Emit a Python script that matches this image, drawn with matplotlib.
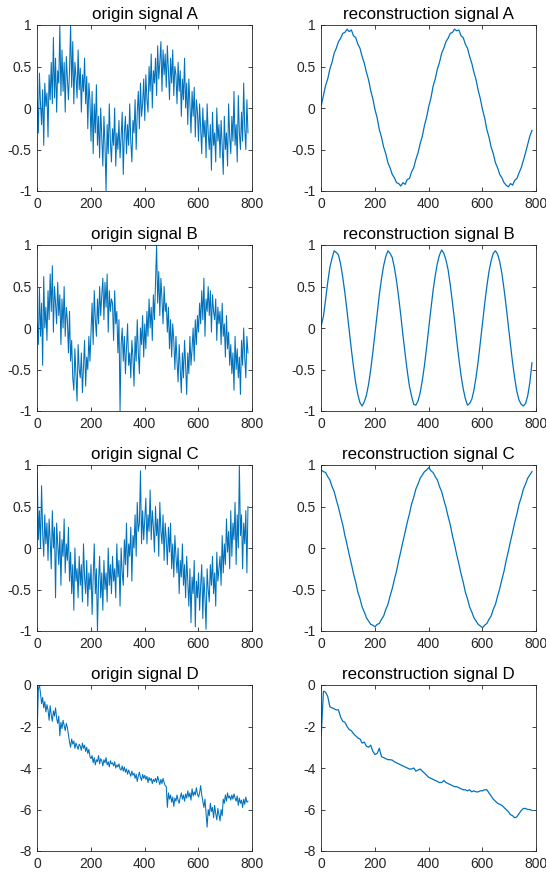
import matplotlib
matplotlib.use("Agg")
import matplotlib.pyplot as plt
import numpy as np

# sample spacing used when reading the curves off the picture
NOISY_STEP = 4
SMOOTH_STEP = 8

origin_a = [
    0.10, -0.30, 0.42, 0.05, -0.20, 0.22, -0.45, 0.30, 0.02, 0.18,
    -0.35, 0.40, 0.10, 0.55, 0.05, 0.85, 0.12, 0.60, -0.05, 0.45,
    0.30, 1.00, 0.15, 0.70, 0.20, 0.55, -0.05, 0.62, 0.35, 0.10,
    0.45, 1.00, 0.25, 0.80, 0.05, 0.55, 0.38, 0.12, 0.70, 0.22,
    0.48, -0.05, 0.40, 0.20, 0.60, 0.05, 0.38, -0.25, 0.30, 0.10,
    -0.40, 0.20, -0.55, 0.05, -0.30, 0.28, -0.45, -0.10, -0.60, 0.00,
    -0.35, -0.70, -0.10, -0.45, -1.00, -0.20, -0.55, 0.05, -0.40, -0.65,
    -0.25, -0.45, 0.00, -0.70, -0.30, -0.50, -0.15, -0.60, -0.35, -0.05,
    -0.80, -0.30, -0.10, -0.55, -0.20, -0.45, 0.05, -0.40, -0.65, -0.15,
    -0.30, 0.10, -0.50, -0.05, 0.20, -0.25, 0.30, -0.10, 0.05, 0.35,
    -0.15, 0.40, 0.10, -0.05, 0.50, 0.20, 0.65, 0.00, 0.45, 0.30,
    0.60, 0.15, 0.75, 0.35, 0.55, 0.80, 0.20, 0.70, 0.40, 0.65,
    0.25, 0.75, 0.45, 0.10, 0.60, 0.30, 0.70, 0.15, 0.50, 0.40,
    0.05, 0.55, 0.20, 0.45, -0.10, 0.35, 0.10, 0.60, 0.00, 0.30,
    -0.20, 0.35, 0.05, -0.30, 0.20, -0.10, 0.25, -0.35, 0.10, -0.05,
    -0.40, 0.05, -0.25, -0.55, 0.00, -0.35, -0.15, -0.60, 0.05, -0.30,
    -0.50, -0.20, -0.75, -0.05, -0.45, -0.30, -0.65, 0.00, -0.40, -0.20,
    -0.60, -0.15, -0.45, -0.80, -0.10, -0.50, -0.30, -0.70, 0.05, -0.35,
    -0.55, -0.10, -0.40, 0.20, -0.45, -0.20, -0.65, 0.15, -0.30, -0.50,
    -0.05, -0.40, 0.30, -0.25, -0.50, 0.10, -0.30,
]

origin_b = [
    0.05, -0.20, 0.48, -0.10, 0.30, -0.45, 0.62, 0.00, 0.25, -0.15,
    0.45, 0.10, 0.65, 0.20, 0.75, -0.05, 0.50, 0.30, 0.05, 0.55,
    0.15, 0.40, -0.20, 0.35, 0.00, 0.50, -0.10, 0.25, 0.10, -0.30,
    0.20, -0.40, -0.15, -0.60, -0.75, -0.25, -0.55, -0.88, -0.20, -0.50,
    -0.60, -0.30, -0.78, -0.45, -0.15, -0.70, -0.35, -0.50, -0.10, -0.40,
    -0.05, 0.30, -0.20, 0.45, 0.10, -0.10, 0.35, 0.05, 0.50, 0.15,
    0.40, 0.60, 0.10, 0.55, 0.25, 0.65, -0.05, 0.45, 0.20, 0.35,
    0.30, -0.15, 0.45, 0.05, 0.20, -0.30, 0.10, -1.00, -0.20, 0.00,
    -0.40, -0.10, -0.55, -0.25, 0.05, -0.45, -0.30, -0.60, -0.15, -0.35,
    -0.70, -0.10, -0.40, 0.10, -0.30, -0.55, 0.00, -0.20, 0.15, -0.35,
    0.05, -0.25, 0.20, -0.10, 0.35, 0.00, 0.25, -0.15, 0.40, 0.10,
    0.55, 1.00, 0.30, 0.68, 0.15, 0.60, 0.35, 0.05, 0.50, 0.20,
    0.30, -0.05, 0.25, -0.25, 0.10, -0.35, 0.05, -0.15, -0.50, -0.10,
    -0.40, -0.65, -0.20, -0.50, -0.78, -0.30, -0.60, -0.15, -0.45, -0.80,
    -0.30, -0.55, -0.10, -0.45, -0.25, 0.00, -0.40, 0.10, -0.20, 0.15,
    -0.05, 0.30, 0.05, 0.45, 0.10, 0.60, -0.10, 0.35, 0.20, 0.50,
    0.15, 0.45, -0.05, 0.40, 0.20, 0.10, 0.35, -0.15, 0.25, 0.05,
    0.20, -0.20, 0.30, -0.10, 0.05, -0.35, 0.15, -0.25, -0.05, -0.45,
    -0.20, -0.55, -0.30, -0.75, -0.10, -0.50, -0.25, -0.60, -0.35, -0.80,
    -0.15, -0.45, 0.00, -0.35, -0.60, -0.10, -0.30,
]

origin_c = [
    0.90, 0.10, 0.45, 0.00, 0.75, 0.20, -0.10, 0.40, 0.05, 0.30,
    -0.15, 0.35, 0.10, -0.25, 0.45, 0.00, 0.25, -0.60, 0.30, 0.05,
    -0.20, 0.20, -0.45, 0.10, -0.10, 0.35, -0.30, 0.05, -0.15, 0.25,
    -0.40, -0.05, -0.55, -0.20, -0.75, 0.00, -0.40, -0.25, -0.60, -0.10,
    -0.45, -0.20, -0.65, 0.05, -0.35, -0.55, -0.15, -0.70, -0.30, -0.50,
    -0.20, -0.80, -0.35, 0.05, -0.55, -0.25, -1.00, -0.40, -0.10, -0.60,
    -0.30, -0.75, -0.15, -0.50, -0.30, -0.65, 0.00, -0.45, -0.20, -0.55,
    -0.10, -0.40, -0.25, -0.60, 0.05, -0.35, -0.15, -0.70, 0.00, -0.30,
    -0.45, 0.10, -0.20, 0.30, -0.35, 0.05, -0.10, 0.25, -0.40, 0.15,
    0.00, 0.40, -0.10, 0.55, 0.20, 0.30, 0.93, 0.05, 0.45, 0.10,
    0.35, 0.60, 0.05, 0.40, 0.20, 0.70, 0.10, 0.45, 0.25, -0.05,
    0.50, 0.15, 0.35, -0.10, 0.55, 0.20, 0.05, 0.40, -0.15, 0.30,
    0.10, -0.20, 0.25, -0.05, 0.30, -0.25, 0.05, -0.35, 0.15, -0.10,
    -0.30, 0.00, -0.55, -0.15, -0.35, 0.05, -0.45, -0.20, -0.60, -0.10,
    -0.40, -0.70, -0.25, -0.90, -0.35, -0.55, -0.15, -0.95, -0.40, -0.60,
    -0.30, -0.75, -0.45, -0.20, -0.85, -0.35, -0.60, -0.98, -0.25, -0.50,
    -0.65, -0.20, -0.45, -0.10, -0.55, -0.30, -0.70, -0.05, -0.40, -0.25,
    -0.10, -0.45, 0.15, -0.30, 0.05, -0.20, 0.35, -0.05, 0.20, -0.25,
    0.45, -0.10, 0.30, 0.10, 0.55, -0.20, 0.40, 0.00, 1.00, 0.15,
    0.40, -0.25, 0.30, 0.05, 0.45, -0.30, 0.50,
]

origin_d = [
    -2.10, -0.20, 0.00, -0.40, -0.90, -0.60, -1.10, -0.80, -1.30, -0.95,
    -1.20, -1.70, -1.00, -1.45, -1.75, -1.25, -1.50, -1.10, -1.60, -1.85,
    -1.50, -2.45, -1.80, -2.10, -1.70, -1.95, -2.20, -1.85, -2.05, -2.40,
    -2.75, -3.00, -2.60, -2.85, -2.70, -3.05, -2.80, -2.95, -3.10, -2.85,
    -2.95, -3.15, -2.80, -3.05, -2.90, -3.20, -3.00, -3.30, -3.10, -3.45,
    -3.55, -3.40, -3.75, -3.50, -3.85, -3.60, -3.70, -3.40, -3.80, -3.55,
    -3.65, -3.90, -3.60, -3.75, -3.50, -3.85, -3.70, -3.95, -3.65, -3.80,
    -3.75, -3.90, -3.70, -4.00, -3.85, -3.95, -3.80, -4.05, -4.10, -3.90,
    -4.15, -3.95, -4.20, -4.05, -4.30, -4.10, -4.25, -4.40, -4.15, -4.35,
    -4.25, -4.50, -4.30, -4.65, -4.40, -4.20, -4.45, -4.60, -4.30, -4.50,
    -4.35, -4.55, -4.40, -4.70, -4.45, -4.60, -4.50, -4.75, -4.55, -4.65,
    -4.50, -4.70, -4.40, -4.60, -4.80, -4.55, -4.75, -4.50, -4.70, -4.85,
    -4.90, -5.90, -5.20, -5.50, -5.30, -5.65, -5.40, -5.85, -5.45, -5.60,
    -5.30, -5.55, -5.70, -5.40, -5.20, -5.50, -5.30, -5.60, -5.25, -5.45,
    -5.10, -5.40, -5.20, -5.55, -5.00, -5.35, -5.15, -5.30, -4.95, -5.25,
    -5.40, -5.20, -4.85, -5.30, -5.60, -5.90, -5.50, -6.20, -6.85, -6.00,
    -6.30, -5.70, -6.10, -5.90, -6.40, -5.80, -6.20, -6.50, -5.95, -6.25,
    -6.55, -6.00, -6.30, -5.50, -5.70, -5.30, -5.60, -5.20, -5.45, -5.35,
    -5.55, -5.30, -5.50, -5.25, -5.45, -5.60, -5.35, -5.80, -5.45, -5.70,
    -5.55, -5.90, -5.50, -5.75, -5.40, -5.65, -5.60,
]

recon_a = [
    0.03, 0.15, 0.27, 0.35, 0.47, 0.55, 0.66, 0.72, 0.80, 0.84,
    0.90, 0.91, 0.95, 0.92, 0.94, 0.87, 0.85, 0.77, 0.72, 0.62,
    0.54, 0.43, 0.34, 0.21, 0.11, -0.02, -0.12, -0.26, -0.35, -0.47,
    -0.55, -0.66, -0.72, -0.80, -0.84, -0.90, -0.91, -0.94, -0.90, -0.92,
    -0.86, -0.85, -0.77, -0.72, -0.62, -0.54, -0.43, -0.34, -0.21, -0.11,
    0.02, 0.12, 0.26, 0.35, 0.47, 0.55, 0.66, 0.72, 0.80, 0.84,
    0.90, 0.91, 0.95, 0.93, 0.94, 0.87, 0.85, 0.77, 0.72, 0.62,
    0.54, 0.43, 0.34, 0.21, 0.11, -0.02, -0.12, -0.26, -0.35, -0.47,
    -0.55, -0.66, -0.72, -0.80, -0.84, -0.90, -0.93, -0.95, -0.91, -0.93,
    -0.87, -0.85, -0.78, -0.72, -0.63, -0.54, -0.44, -0.34, -0.27,
]

recon_b = [
    0.03, 0.14, 0.34, 0.55, 0.73, 0.84, 0.93, 0.91, 0.88, 0.77,
    0.61, 0.42, 0.20, -0.03, -0.26, -0.47, -0.66, -0.80, -0.90, -0.94,
    -0.89, -0.81, -0.68, -0.50, -0.29, -0.06, 0.17, 0.40, 0.59, 0.75,
    0.86, 0.93, 0.90, 0.85, 0.73, 0.57, 0.37, 0.15, -0.09, -0.31,
    -0.52, -0.70, -0.82, -0.92, -0.93, -0.88, -0.78, -0.63, -0.45, -0.23,
    0.00, 0.23, 0.45, 0.63, 0.78, 0.88, 0.94, 0.90, 0.82, 0.70,
    0.52, 0.31, 0.09, -0.15, -0.37, -0.57, -0.73, -0.85, -0.93, -0.91,
    -0.86, -0.75, -0.59, -0.40, -0.17, 0.06, 0.29, 0.50, 0.68, 0.81,
    0.90, 0.93, 0.89, 0.80, 0.66, 0.47, 0.26, 0.03, -0.20, -0.42,
    -0.61, -0.77, -0.87, -0.92, -0.94, -0.91, -0.82, -0.66, -0.42,
]

recon_c = [
    0.94, 0.92, 0.91, 0.86, 0.82, 0.74, 0.68, 0.58, 0.49, 0.38,
    0.28, 0.15, 0.04, -0.08, -0.19, -0.31, -0.41, -0.53, -0.61, -0.71,
    -0.77, -0.84, -0.88, -0.92, -0.93, -0.95, -0.92, -0.91, -0.86, -0.82,
    -0.74, -0.68, -0.58, -0.49, -0.38, -0.28, -0.15, -0.04, 0.08, 0.19,
    0.31, 0.41, 0.53, 0.61, 0.71, 0.77, 0.84, 0.88, 0.92, 0.94,
    0.97, 0.93, 0.91, 0.86, 0.82, 0.74, 0.68, 0.58, 0.49, 0.38,
    0.28, 0.15, 0.04, -0.08, -0.19, -0.31, -0.41, -0.53, -0.61, -0.71,
    -0.77, -0.84, -0.88, -0.92, -0.94, -0.96, -0.93, -0.91, -0.86, -0.82,
    -0.74, -0.68, -0.58, -0.49, -0.38, -0.28, -0.15, -0.04, 0.08, 0.19,
    0.31, 0.41, 0.53, 0.61, 0.71, 0.77, 0.84, 0.88, 0.92,
]

recon_d = [
    -2.40, -0.30, -0.35, -0.55, -1.05, -1.10, -1.15, -1.20, -1.20, -1.55,
    -1.75, -1.80, -2.00, -2.15, -2.20, -2.35, -2.45, -2.55, -2.60, -2.80,
    -2.75, -2.95, -3.00, -2.90, -3.20, -3.35, -3.30, -3.05, -3.45, -3.50,
    -3.55, -3.60, -3.60, -3.62, -3.70, -3.75, -3.80, -3.85, -3.90, -3.95,
    -4.00, -4.05, -4.05, -4.00, -4.15, -4.10, -4.05, -4.15, -4.25, -4.35,
    -4.45, -4.50, -4.55, -4.60, -4.65, -4.70, -4.70, -4.60, -4.70, -4.75,
    -4.80, -4.85, -4.90, -4.90, -4.95, -5.00, -5.05, -5.05, -5.10, -5.05,
    -5.15, -5.10, -5.15, -5.15, -5.10, -5.10, -5.05, -5.05, -5.20, -5.35,
    -5.50, -5.60, -5.70, -5.75, -5.80, -5.90, -6.00, -6.10, -6.25, -6.30,
    -6.40, -6.35, -6.20, -6.05, -5.95, -5.95, -6.00, -6.00, -6.05,
]

titles = ["origin signal A", "reconstruction signal A",
          "origin signal B", "reconstruction signal B",
          "origin signal C", "reconstruction signal C",
          "origin signal D", "reconstruction signal D"]
series = [origin_a, recon_a, origin_b, recon_b, origin_c, recon_c, origin_d, recon_d]
steps = [NOISY_STEP, SMOOTH_STEP] * 4

x_ticks = [0, 200, 400, 600, 800]
sine_ticks = [-1, -0.5, 0, 0.5, 1]
sine_labels = ["-1", "-0.5", "0", "0.5", "1"]
decay_ticks = [-8, -6, -4, -2, 0]
decay_labels = ["-8", "-6", "-4", "-2", "0"]

line_color = "#0072BD"
axis_color = "#262626"

plt.rcParams["font.family"] = ["Liberation Sans", "DejaVu Sans"]

W, H = 546, 891
fig = plt.figure(figsize=(W / 100, H / 100), dpi=100)

col_left = [37, 321]
row_top = [25, 245, 465, 685]
ax_w, ax_h = 215, 166

for k in range(8):
    r, c = divmod(k, 2)
    left = col_left[c] / W
    bottom = (H - row_top[r] - ax_h) / H
    ax = fig.add_axes([left, bottom, ax_w / W, ax_h / H])

    vals = np.array(series[k])
    x = 1 + steps[k] * np.arange(len(vals))
    ax.plot(x, vals, color=line_color, linewidth=0.75 if steps[k] == NOISY_STEP else 0.9)

    ax.set_xlim(0, 800)
    ax.set_xticks(x_ticks)
    ax.set_xticklabels([str(t) for t in x_ticks])
    if r < 3:
        ax.set_ylim(-1, 1)
        ax.set_yticks(sine_ticks)
        ax.set_yticklabels(sine_labels)
    else:
        ax.set_ylim(-8, 0)
        ax.set_yticks(decay_ticks)
        ax.set_yticklabels(decay_labels)

    ax.tick_params(direction="in", length=3, width=0.6, top=True, right=True,
                   labelsize=10, colors=axis_color, pad=4)
    for sp in ax.spines.values():
        sp.set_color(axis_color)
        sp.set_linewidth(0.6)
    ax.set_title(titles[k], fontsize=12.2, color="black", pad=4)

fig.savefig("out.png", dpi=100)
plt.close(fig)
